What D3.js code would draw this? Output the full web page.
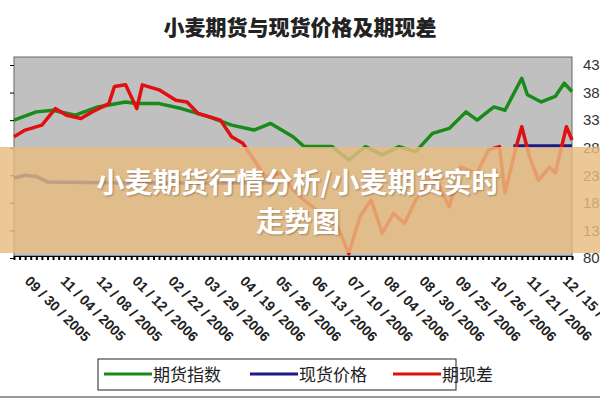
<!DOCTYPE html>
<html><head><meta charset="utf-8">
<script src="https://cdn.jsdelivr.net/npm/d3@7"></script>
<style>body{margin:0;background:#fff;overflow:hidden}</style>
</head><body>
<script>
// data, x is position 0..100 along the period
var futuresPts = [[0,330],[4,345],[7,348],[11,339],[15,354],[20,363],[22,360],[26,360],[30,351],[35,336],[39,321],[43,312],[46,324],[50,300],[52,282],[57,282],[60,258],[63,282],[66,267],[69,282],[72,273],[75,306],[78,315],[81,345],[83,330],[86,354],[88,348],[91,406],[92,376],[94.5,363],[97,373],[98.6,397],[100,382]];
var basisPts = [[0,300],[2,312],[5,321],[7.4,351],[9.4,339],[12,333],[14,345],[17,360],[18,391],[20,394],[22,351],[23,394],[26,385],[29,366],[31,363],[33,342],[37,330],[39,300],[41,288],[43,258],[45,227],[48,234],[50,203],[52,185],[55,161],[58,137],[60,88],[62,155],[64,185],[66,125],[68,161],[70,143],[72,185],[75,234],[78,173],[80,245],[83,234],[85,276],[87,282],[88,198],[90,282],[91,318],[92.4,263],[94,221],[96,245],[97,234],[99,318],[100,294]];
var spotPts = [[0,225],[2,230],[4,228],[6,218],[20,216],[47,216],[47,null],[88,null],[89.5,283],[100,283]];
var dateLabels = ["09/30/2005","11/04/2005","12/08/2005","01/12/2006","02/22/2006","03/29/2006","04/19/2006","05/26/2006","06/13/2006","07/10/2006","08/04/2006","08/30/2006","09/25/2006","10/26/2006","11/21/2006","12/15/2006"];
var rightTicks = [430,380,330,280,230,180,130,80];
var seriesNames = ["期货指数","现货价格","期现差"];
var seriesColors = ["#1a8a1a","#1a1a8a","#e01010"];

var W = 600, H = 400;
var svg = d3.select("body").append("svg").attr("width", W).attr("height", H);

var x = d3.scaleLinear().domain([0, 100]).range([14, 572]);
var y = d3.scaleLinear().domain([80, 430]).range([258, 65]);

svg.append("text").attr("x", 300).attr("y", 35).attr("text-anchor", "middle")
  .attr("font-family", "Noto Sans CJK SC").attr("font-weight", "900").attr("font-size", 21)
  .attr("fill", "#222").text("小麦期货与现货价格及期现差");

svg.append("rect").attr("x", 14).attr("y", 57).attr("width", 558).attr("height", 199)
  .attr("fill", "#c0c0c0").attr("stroke", "#666");

svg.append("g").attr("transform", "translate(14,0)")
  .call(d3.axisLeft(y).tickValues(rightTicks).tickSize(4).tickFormat(""))
  .call(g => g.select(".domain").remove());

svg.append("g").attr("transform", "translate(0,256)")
  .call(d3.axisBottom(x).ticks(120).tickSize(4).tickFormat(""))
  .call(g => g.selectAll("line").attr("stroke-width", 2));

svg.append("g").attr("transform", "translate(580,0)")
  .call(d3.axisRight(y).tickValues(rightTicks).tickSize(0).tickPadding(3))
  .call(g => g.select(".domain").remove())
  .selectAll("text").attr("font-family", "Liberation Sans").attr("font-size", 15).attr("fill", "#333");

var line = d3.line().defined(d => d[1] != null).x(d => x(d[0])).y(d => y(d[1]));
[[futuresPts, 0], [spotPts, 1], [basisPts, 2]].forEach(function (s) {
  svg.append("path").datum(s[0]).attr("d", line).attr("fill", "none")
    .attr("stroke", seriesColors[s[1]]).attr("stroke-width", 3.5).attr("stroke-linejoin", "round");
});

var lx = d3.scalePoint().domain(dateLabels).range([24, 562]);
svg.append("g").selectAll("text").data(dateLabels).join("text")
  .attr("transform", d => "translate(" + lx(d) + ",282) rotate(45)")
  .attr("font-family", "Liberation Sans").attr("font-weight", "bold").attr("font-size", 14)
  .attr("fill", "#222").text(d => d.replace(/\//g, " / "));

var lg = svg.append("g");
lg.append("rect").attr("x", 98).attr("y", 359).attr("width", 358).attr("height", 31)
  .attr("fill", "#fff").attr("stroke", "#222");
var lgx = [104, 250, 393];
seriesNames.forEach(function (n, i) {
  lg.append("line").attr("x1", lgx[i]).attr("x2", lgx[i] + 48).attr("y1", 374).attr("y2", 374)
    .attr("stroke", seriesColors[i]).attr("stroke-width", 3);
  lg.append("text").attr("x", lgx[i] + 49).attr("y", 381).attr("font-family", "Noto Sans CJK SC")
    .attr("font-size", 17).attr("fill", "#222").text(n);
});
svg.append("line").attr("x1", 0).attr("x2", 600).attr("y1", 397).attr("y2", 397).attr("stroke", "#333");

// overlay banner
svg.append("rect").attr("x", 0).attr("y", 147).attr("width", 600).attr("height", 106)
  .attr("fill", "rgb(232,188,128)").attr("opacity", 0.82);
var bt = svg.append("text").attr("text-anchor", "middle").attr("font-family", "Noto Sans CJK SC")
  .attr("font-weight", "bold").attr("font-size", 28).attr("fill", "#fff")
  .style("text-shadow", "1px 1px 2px rgba(0,0,0,0.3)");
bt.append("tspan").attr("x", 298).attr("y", 193).text("小麦期货行情分析/小麦期货实时");
bt.append("tspan").attr("x", 298).attr("y", 232).text("走势图");
</script>
</body></html>
